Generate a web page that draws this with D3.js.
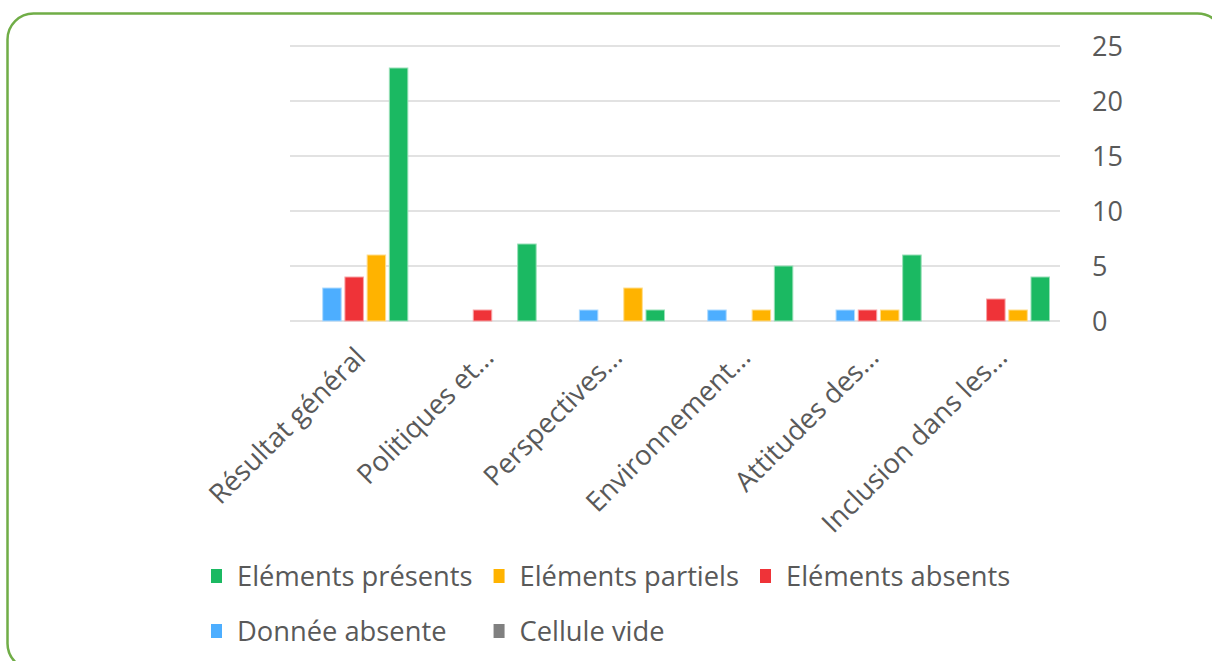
<!DOCTYPE html>
<html>
<head>
<meta charset="utf-8">
<script src="https://cdn.jsdelivr.net/npm/d3@7/dist/d3.min.js"></script>
<style>
  html, body { margin: 0; padding: 0; background: #ffffff; }
  svg { display: block; }
  text { font-family: "Open Sans", "Noto Sans", sans-serif; fill: #595959; }
</style>
</head>
<body>
<svg id="chart" width="1212" height="661"></svg>
<script>
// Categories (truncated as shown on the axis)
const categories = [
  "Résultat général",
  "Politiques et…",
  "Perspectives…",
  "Environnement…",
  "Attitudes des…",
  "Inclusion dans les…"
];

// Series values, one per category
const elementsPresents = [23, 7, 1, 5, 6, 4];
const elementsPartiels = [6, 0, 3, 1, 1, 1];
const elementsAbsents  = [4, 1, 0, 0, 1, 2];
const donneeAbsente    = [3, 0, 1, 1, 1, 0];
const celluleVide      = [0, 0, 0, 0, 0, 0];

// Value-axis ticks
const yTicks = [0, 5, 10, 15, 20, 25];

// Series in drawing order within each cluster (left to right)
const series = [
  { name: "Cellule vide",      values: celluleVide,      color: "#808080" },
  { name: "Donnée absente",    values: donneeAbsente,    color: "#4DAEFF" },
  { name: "Eléments absents",  values: elementsAbsents,  color: "#EF3338" },
  { name: "Eléments partiels", values: elementsPartiels, color: "#FFB300" },
  { name: "Eléments présents", values: elementsPresents, color: "#1BB962" }
];
// Legend order
const legendOrder = ["Eléments présents", "Eléments partiels", "Eléments absents", "Donnée absente", "Cellule vide"];

const svg = d3.select("#chart");

// Rounded green frame
svg.append("rect")
  .attr("x", 7.5).attr("y", 13.5)
  .attr("width", 1216).attr("height", 656)
  .attr("rx", 26).attr("ry", 26)
  .attr("fill", "#ffffff")
  .attr("stroke", "#70AD47")
  .attr("stroke-width", 2.5);

const plot = { left: 290, right: 1060, top: 46, bottom: 321 };

const y = d3.scaleLinear().domain([0, 25]).range([plot.bottom, plot.top]);

const x0 = d3.scaleBand().domain(categories).range([plot.left, plot.right]).padding(0);
const inset = 10.5;
const x1 = d3.scaleBand()
  .domain(series.map(s => s.name))
  .range([inset, x0.bandwidth() - inset])
  .paddingInner(0.167).paddingOuter(0);

// Gridlines
svg.append("g").selectAll("line")
  .data(yTicks)
  .join("line")
  .attr("x1", plot.left).attr("x2", plot.right)
  .attr("y1", d => y(d)).attr("y2", d => y(d))
  .attr("stroke", "#d9d9d9").attr("stroke-width", 1.5);

// Right-hand value axis
const yAxis = d3.axisRight(y).tickValues(yTicks).tickSize(0).tickPadding(0);
const yg = svg.append("g")
  .attr("transform", `translate(${plot.right + 32},0)`)
  .call(yAxis);
yg.select(".domain").remove();
yg.selectAll("text")
  .attr("font-size", 27)
  .attr("fill", "#595959")
  .attr("dy", "0.36em");

// Bars
const groups = svg.append("g").selectAll("g")
  .data(categories)
  .join("g")
  .attr("transform", d => `translate(${x0(d)},0)`);

groups.selectAll("rect")
  .data((c, i) => series.map(s => ({ key: s.name, value: s.values[i], color: s.color })))
  .join("rect")
  .filter(d => d.value > 0)
  .attr("x", d => x1(d.key))
  .attr("width", x1.bandwidth())
  .attr("y", d => y(d.value))
  .attr("height", d => y(0) - y(d.value))
  .attr("fill", d => d.color)
  .attr("stroke", d => d3.interpolateRgb(d.color, "#ffffff")(0.55))
  .attr("stroke-width", 1);

// Category labels, rotated
svg.append("g").selectAll("text")
  .data(categories)
  .join("text")
  .attr("transform", d => `translate(${x0(d) + x0.bandwidth() / 2 + 13},${plot.bottom + 38}) rotate(-45)`)
  .attr("text-anchor", "end")
  .attr("font-size", 27.5)
  .text(d => d);

// Legend laid out in a 3-column grid
const legendFont = 27.3, sw = 11, textGap = 16, colGap = 20;
const leg = svg.append("g");
const items = legendOrder.map(n => series.find(s => s.name === n));
const measure = leg.append("text").attr("font-size", legendFont);
const widths = items.map(s => { measure.text(s.name); return measure.node().getComputedTextLength(); });
measure.remove();
const nCols = 3;
const colX = [211];
for (let c = 0; c < nCols - 1; c++) {
  const w = d3.max(items.filter((_, i) => i % nCols === c).map((_, k) => widths[c + k * nCols]));
  colX.push(colX[c] + sw + textGap + w + colGap);
}
const rowY = [576, 631];
items.forEach((s, i) => {
  const g = leg.append("g").attr("transform", `translate(${colX[i % nCols]},${rowY[Math.floor(i / nCols)]})`);
  g.append("rect").attr("x", 0).attr("y", -7).attr("width", sw).attr("height", sw + 3).attr("fill", s.color);
  g.append("text").attr("x", sw + textGap - 1).attr("dy", "0.36em").attr("font-size", legendFont).text(s.name);
});
</script>
</body>
</html>
